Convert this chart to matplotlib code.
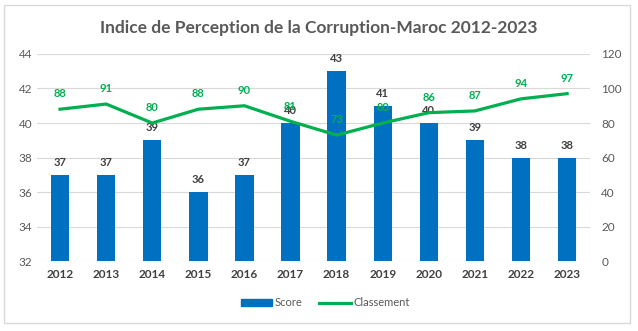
import matplotlib
matplotlib.use("Agg")
import matplotlib.pyplot as plt
from matplotlib.patches import Rectangle
from matplotlib.lines import Line2D
from matplotlib.patches import Patch

years = ["2012", "2013", "2014", "2015", "2016", "2017", "2018", "2019", "2020", "2021", "2022", "2023"]
score = [37, 37, 39, 36, 37, 40, 43, 41, 40, 39, 38, 38]
classement = [88, 91, 80, 88, 90, 81, 73, 80, 86, 87, 94, 97]

plt.rcParams['font.family'] = ['Lato', 'DejaVu Sans']

fig = plt.figure(figsize=(6.38, 3.31), dpi=100)
fig.patches.append(Rectangle((0.006, 0.025), 0.982, 0.96, transform=fig.transFigure,
                             fill=False, edgecolor='#D9D9D9', linewidth=1.0))

ax = fig.add_axes([0.058, 0.211, 0.867, 0.626])
ax2 = ax.twinx()

x = list(range(len(years)))
bar_color = '#0070C0'
line_color = '#00B050'

ax.bar(x, [s - 32 for s in score], bottom=32, width=0.4, color=bar_color, zorder=2)
ax.set_ylim(32, 44)
ax.set_yticks(range(32, 45, 2))
ax.set_xlim(-0.5, 11.5)
ax.set_xticks(x)
ax.set_xticklabels(years, fontweight='bold', color='#404040', fontsize=8)
ax.grid(axis='y', color='#D9D9D9', linewidth=0.8, zorder=0)
ax.set_axisbelow(True)
for s in ax.spines.values():
    s.set_visible(False)
ax.tick_params(axis='both', length=0, colors='#595959', labelsize=8.5)
ax.tick_params(axis='x', pad=6, colors='#404040')

for xi, s in zip(x, score):
    ax.annotate(str(s), (xi, s), xytext=(0, 5), textcoords='offset points',
                ha='center', va='bottom', fontsize=8, fontweight='bold', color='#404040', zorder=5)

ax2.plot(x, classement, color=line_color, linewidth=2.3, zorder=3)
ax2.set_ylim(0, 120)
ax2.set_yticks(range(0, 121, 20))
for s in ax2.spines.values():
    s.set_visible(False)
ax2.tick_params(axis='y', length=0, colors='#595959', labelsize=8.5, pad=8)
for xi, c in zip(x, classement):
    ax2.annotate(str(c), (xi, c), xytext=(0, 7), textcoords='offset points',
                 ha='center', va='bottom', fontsize=8, fontweight='bold', color=line_color, zorder=6)

fig.text(0.5, 0.915, "Indice de Perception de la Corruption-Maroc 2012-2023",
         ha='center', va='center', fontsize=12.5, fontweight='bold', color='#595959')

handles = [Patch(color=bar_color), Line2D([0], [0], color=line_color, linewidth=2.3)]
fig.legend(handles, ['Score', 'Classement'], loc='center', bbox_to_anchor=(0.51, 0.085),
           ncol=2, frameon=False, fontsize=8, handlelength=2.8, handleheight=0.5,
           columnspacing=1.5, handletextpad=0.3, labelcolor='#595959')

fig.savefig("out.png", dpi=100)
